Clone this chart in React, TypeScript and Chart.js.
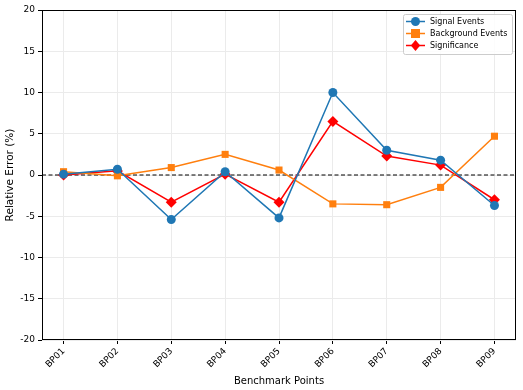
import React, { useEffect, useRef } from "react";
import { Chart, registerables } from "chart.js";

Chart.register(...registerables);

const categories = ["BP01", "BP02", "BP03", "BP04", "BP05", "BP06", "BP07", "BP08", "BP09"];
const signalEvents = [0.1, 0.7, -5.4, 0.4, -5.2, 10.0, 3.0, 1.8, -3.7];
const backgroundEvents = [0.4, -0.1, 0.9, 2.5, 0.6, -3.5, -3.6, -1.5, 4.7];
const significance = [0.0, 0.5, -3.3, 0.1, -3.3, 6.5, 2.3, 1.2, -3.0];
const yTicks = [-20, -15, -10, -5, 0, 5, 10, 15, 20];

const FONT = "'DejaVu Sans', sans-serif";

const framePlugin = {
  id: "frame",
  beforeDatasetsDraw(chart: any) {
    const { ctx, chartArea, scales } = chart;
    const y0 = scales.y.getPixelForValue(0);
    ctx.save();
    ctx.strokeStyle = "#000";
    ctx.lineWidth = 1;
    ctx.setLineDash([4, 2.5]);
    ctx.beginPath();
    ctx.moveTo(chartArea.left, y0);
    ctx.lineTo(chartArea.right, y0);
    ctx.stroke();
    ctx.restore();
  },
  afterDraw(chart: any) {
    const { ctx, chartArea } = chart;
    ctx.save();
    ctx.strokeStyle = "#000";
    ctx.lineWidth = 1;
    ctx.strokeRect(chartArea.left + 0.5, chartArea.top + 0.5, chartArea.right - chartArea.left - 1, chartArea.bottom - chartArea.top - 1);
    // legend
    const bx = chartArea.right - 113;
    const by = chartArea.top + 4;
    const bw = 109;
    const bh = 40;
    ctx.fillStyle = "rgba(255,255,255,0.85)";
    ctx.strokeStyle = "#cccccc";
    ctx.beginPath();
    ctx.roundRect(bx + 0.5, by + 0.5, bw, bh, 2);
    ctx.fill();
    ctx.stroke();
    chart.data.datasets.forEach((ds: any, i: number) => {
      const ly = by + 7.5 + i * 12;
      ctx.strokeStyle = ds.borderColor;
      ctx.lineWidth = 1.5;
      ctx.beginPath();
      ctx.moveTo(bx + 3, ly);
      ctx.lineTo(bx + 22, ly);
      ctx.stroke();
      ctx.fillStyle = ds.backgroundColor;
      const cx = bx + 12.5;
      const r = ds.pointRadius;
      ctx.beginPath();
      if (ds.pointStyle === "circle") {
        ctx.arc(cx, ly, r, 0, Math.PI * 2);
      } else if (ds.pointStyle === "rect") {
        const h = r * 0.9;
        ctx.rect(cx - h, ly - h, 2 * h, 2 * h);
      } else {
        ctx.moveTo(cx, ly - r);
        ctx.lineTo(cx + r * 0.85, ly);
        ctx.lineTo(cx, ly + r);
        ctx.lineTo(cx - r * 0.85, ly);
        ctx.closePath();
      }
      ctx.fill();
      ctx.fillStyle = "#000";
      ctx.font = `8px ${FONT}`;
      ctx.textBaseline = "middle";
      ctx.textAlign = "left";
      ctx.fillText(ds.label, bx + 27, ly + 0.5);
    });
    ctx.restore();
  },
};

export default function App() {
  const ref = useRef<HTMLCanvasElement>(null);
  useEffect(() => {
    document.body.style.margin = "0";
    const mk = (arr: number[]) => arr.map((v, i) => ({ x: i, y: v }));
    const chart = new Chart(ref.current!, {
      type: "line",
      data: {
        datasets: [
          {
            label: "Signal Events",
            data: mk(signalEvents),
            borderColor: "#1f77b4",
            backgroundColor: "#1f77b4",
            pointStyle: "circle",
            pointRadius: 4.5,
            pointBorderWidth: 0,
            borderWidth: 1.5,
          },
          {
            label: "Background Events",
            data: mk(backgroundEvents),
            borderColor: "#ff7f0e",
            backgroundColor: "#ff7f0e",
            pointStyle: "rect",
            pointRadius: 5,
            pointBorderWidth: 0,
            borderWidth: 1.5,
          },
          {
            label: "Significance",
            data: mk(significance),
            borderColor: "#ff0000",
            backgroundColor: "#ff0000",
            pointStyle: "rectRot",
            pointRadius: 5.5,
            pointBorderWidth: 0,
            borderWidth: 1.5,
          },
        ] as any,
      },
      options: {
        animation: false,
        responsive: false,
        maintainAspectRatio: false,
        layout: { padding: { top: 10, right: 7, left: 0, bottom: 0 } },
        plugins: { legend: { display: false }, tooltip: { enabled: false } },
        scales: {
          x: {
            type: "linear",
            min: -0.4,
            max: categories.length - 1 + 0.4,
            afterBuildTicks: (s: any) => {
              s.ticks = categories.map((_, i) => ({ value: i }));
            },
            afterFit: (s: any) => {
              s.height = 50;
            },
            ticks: {
              autoSkip: false,
              minRotation: 45,
              maxRotation: 45,
              color: "#000",
              font: { family: FONT, size: 9 },
              padding: 2,
              callback: (v: any) => categories[v] ?? "",
            },
            grid: { color: "#ebebeb", tickColor: "#000", tickLength: 4 },
            border: { display: false },
            title: {
              display: true,
              text: "Benchmark Points",
              color: "#000",
              font: { family: FONT, size: 10 },
              padding: { top: 0, bottom: 3 },
            },
          },
          y: {
            type: "linear",
            min: -20,
            max: 20,
            afterBuildTicks: (s: any) => {
              s.ticks = yTicks.map((v) => ({ value: v }));
            },
            afterFit: (s: any) => {
              s.width = 42;
            },
            ticks: {
              color: "#000",
              font: { family: FONT, size: 9 },
              padding: 3,
            },
            grid: { color: "#ebebeb", tickColor: "#000", tickLength: 4 },
            border: { display: false },
            title: {
              display: true,
              text: "Relative Error (%)",
              color: "#000",
              font: { family: FONT, size: 10.5 },
              padding: { top: 4, bottom: 0 },
            },
          },
        },
      } as any,
      plugins: [framePlugin],
    });
    return () => chart.destroy();
  }, []);
  return (
    <div style={{ width: 523, height: 390 }}>
      <canvas ref={ref} width={523} height={390} style={{ display: "block" }} />
    </div>
  );
}
